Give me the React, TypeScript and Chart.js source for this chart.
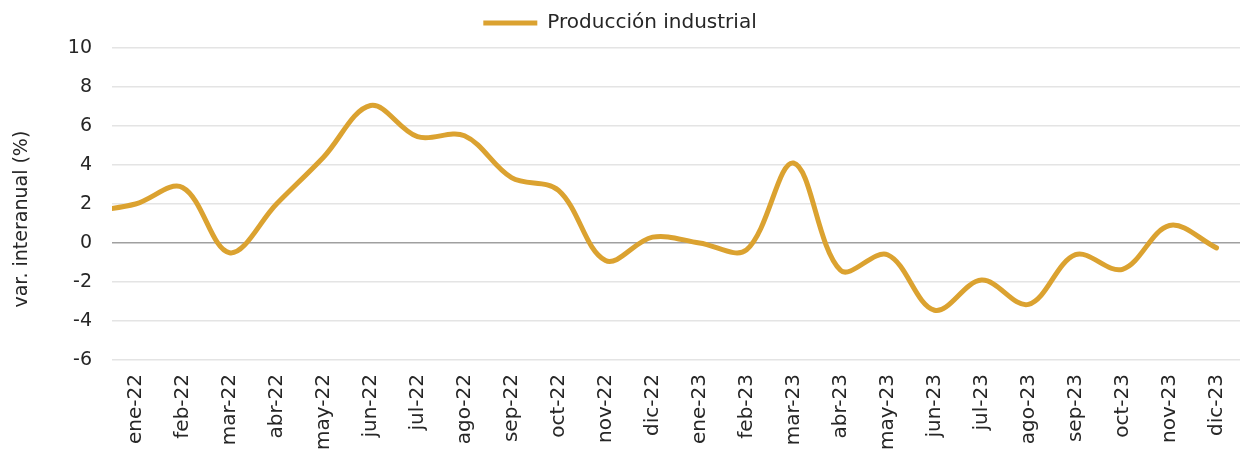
import React, { useEffect, useRef } from 'react';
import { Chart, registerables } from 'chart.js';

Chart.register(...registerables);

// Categories (first one sits just outside the visible range, so the line runs to the left edge)
const categories = [
  'dic-21',
  'ene-22', 'feb-22', 'mar-22', 'abr-22', 'may-22', 'jun-22', 'jul-22', 'ago-22', 'sep-22', 'oct-22', 'nov-22', 'dic-22',
  'ene-23', 'feb-23', 'mar-23', 'abr-23', 'may-23', 'jun-23', 'jul-23', 'ago-23', 'sep-23', 'oct-23', 'nov-23', 'dic-23',
];

const produccionIndustrial = [
  1.6,
  2.0, 2.85, -0.5, 2.0, 4.4, 7.05, 5.45, 5.5, 3.35, 2.7, -0.9, 0.3,
  0.0, -0.35, 4.1, -1.4, -0.6, -3.45, -1.9, -3.15, -0.6, -1.35, 0.9, -0.25,
];

const seriesLabel = 'Producción industrial';
const yAxisTitle = 'var. interanual (%)';
const yMin = -6;
const yMax = 10;
const yStep = 2;

const FONT = "'DejaVu Sans', sans-serif";
const TEXT = '#262626';
const GOLD = '#DBA230';

export default function App() {
  const canvasRef = useRef<HTMLCanvasElement | null>(null);

  useEffect(() => {
    if (!canvasRef.current) return;
    const chart = new Chart(canvasRef.current, {
      type: 'line',
      data: {
        labels: categories,
        datasets: [
          {
            label: seriesLabel,
            data: produccionIndustrial,
            borderColor: GOLD,
            backgroundColor: GOLD,
            borderWidth: 5,
            borderCapStyle: 'round',
            borderJoinStyle: 'round',
            pointRadius: 0,
            pointHoverRadius: 0,
            tension: 0.35,
            fill: false,
          },
        ],
      },
      options: {
        animation: false,
        responsive: true,
        maintainAspectRatio: false,
        layout: { padding: { top: 5, right: 0, bottom: 0, left: 0 } },
        plugins: {
          tooltip: { enabled: false },
          title: {
            display: true,
            text: '',
            weight: 500,
            font: { size: 1 },
            padding: { top: 0, bottom: 3.8 },
          } as any,
          legend: {
            display: true,
            position: 'top',
            labels: {
              usePointStyle: true,
              pointStyle: 'line',
              pointStyleWidth: 54,
              color: TEXT,
              font: { family: FONT, size: 20 },
              padding: 8,
            },
          },
        },
        scales: {
          x: {
            type: 'category',
            min: 'ene-22',
            max: 'dic-23',
            offset: true,
            grid: { display: false, drawTicks: false },
            border: { display: false },
            afterFit: (scale: any) => {
              scale.height = 90;
              scale.paddingLeft = 0;
              scale.paddingRight = 0;
            },
            ticks: {
              color: TEXT,
              font: { family: FONT, size: 20 },
              maxRotation: 90,
              minRotation: 90,
              autoSkip: false,
              padding: 14,
            },
          },
          y: {
            min: yMin,
            max: yMax,
            border: { display: false },
            afterFit: (scale: any) => {
              scale.width = 112;
            },
            grid: {
              drawTicks: false,
              lineWidth: 1.5,
              color: (ctx: any) => (ctx.tick && ctx.tick.value === 0 ? '#a0a0a0' : '#e4e4e4'),
            },
            ticks: {
              stepSize: yStep,
              color: TEXT,
              font: { family: FONT, size: 19 },
              padding: 20,
            },
            title: {
              display: true,
              text: yAxisTitle + '     ',
              color: TEXT,
              font: { family: FONT, size: 19 },
              padding: { top: 11, bottom: 0 },
            },
          },
        },
      },
    });
    return () => chart.destroy();
  }, []);

  return (
    <div style={{ position: 'fixed', left: 0, top: 0, width: 1240, height: 450, background: '#fff' }}>
      <canvas ref={canvasRef} />
    </div>
  );
}
